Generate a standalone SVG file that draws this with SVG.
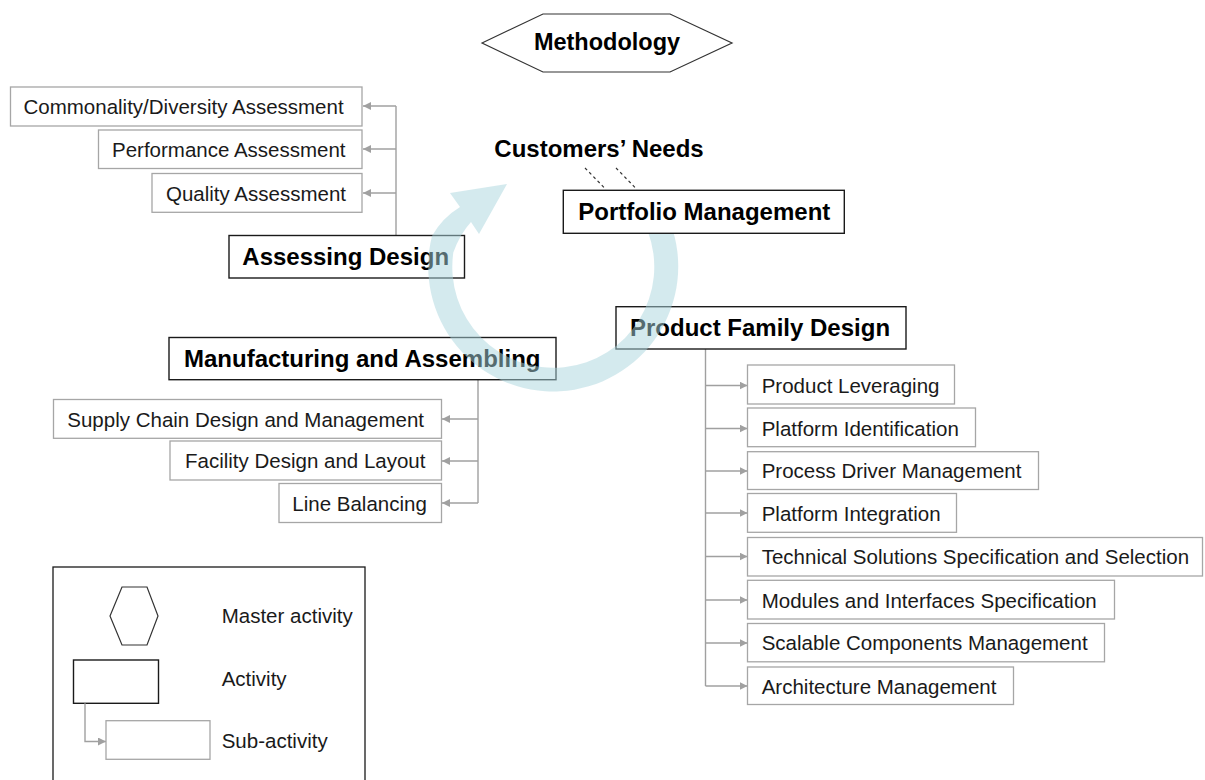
<svg xmlns="http://www.w3.org/2000/svg" width="1205" height="780" viewBox="0 0 1205 780">
<style>
.bg{fill:#ffffff}
.act{fill:#ffffff;stroke:#1a1a1a;stroke-width:1.4}
.sub{fill:#ffffff;stroke:#a6a6a6;stroke-width:1.3}
.conn{fill:none;stroke:#a0a0a0;stroke-width:1.4}
.dash{fill:none;stroke:#333333;stroke-width:1.2;stroke-dasharray:3,3}
.bt{font-family:"Liberation Sans",Arial,sans-serif;font-weight:bold;font-size:24px;fill:#000000}
.rt{font-family:"Liberation Sans",Arial,sans-serif;font-size:20.5px;fill:#1a1a1a}
.ring{fill:rgb(170,213,221);fill-opacity:0.5}
</style>
<defs>
<marker id="ah" markerUnits="userSpaceOnUse" markerWidth="9" markerHeight="9" refX="8" refY="4" orient="auto">
<path d="M0,0 L8,4 L0,8 Z" fill="#a0a0a0"/>
</marker>
</defs>
<rect class="bg" x="0" y="0" width="1205" height="780"/>

<g id="methodology">
<polygon points="482,43 543,14 670,14 732,43 670,72 543,72" fill="#ffffff" stroke="#333333" stroke-width="1.2"/>
<text class="bt" x="607" y="49.5" text-anchor="middle" style="font-size:23.5px">Methodology</text>
</g>

<g id="connectors">
<path class="conn" d="M396 235 V106"/>
<path class="conn" d="M396 106 H363" marker-end="url(#ah)"/>
<path class="conn" d="M396 149 H363" marker-end="url(#ah)"/>
<path class="conn" d="M396 193 H363" marker-end="url(#ah)"/>
<path class="conn" d="M478 380 V503"/>
<path class="conn" d="M478 419 H442" marker-end="url(#ah)"/>
<path class="conn" d="M478 461 H442" marker-end="url(#ah)"/>
<path class="conn" d="M478 503 H442" marker-end="url(#ah)"/>
<path class="conn" d="M705.5 349 V686"/>
<path class="conn" d="M705.5 385.5 H747.5" marker-end="url(#ah)"/>
<path class="conn" d="M705.5 428.5 H747.5" marker-end="url(#ah)"/>
<path class="conn" d="M705.5 471 H747.5" marker-end="url(#ah)"/>
<path class="conn" d="M705.5 513 H747.5" marker-end="url(#ah)"/>
<path class="conn" d="M705.5 556.5 H747.5" marker-end="url(#ah)"/>
<path class="conn" d="M705.5 600 H747.5" marker-end="url(#ah)"/>
<path class="conn" d="M705.5 643 H747.5" marker-end="url(#ah)"/>
<path class="conn" d="M705.5 686 H747.5" marker-end="url(#ah)"/>
<path class="dash" d="M585 168 L606 189.5"/>
<path class="dash" d="M616 168 L637 189.5"/>
</g>

<g id="commonality">
<rect class="sub" x="10.5" y="87" width="351.5" height="39"/>
<text class="rt" x="23.5" y="114.3">Commonality/Diversity Assessment</text>
</g>
<g id="performance">
<rect class="sub" x="98.5" y="130" width="263.5" height="38.5"/>
<text class="rt" x="112" y="156.8">Performance Assessment</text>
</g>
<g id="quality">
<rect class="sub" x="152" y="173.5" width="210" height="38.8"/>
<text class="rt" x="166" y="200.5">Quality Assessment</text>
</g>
<g id="assessing-design">
<rect class="act" x="229" y="235.5" width="235.5" height="42.5"/>
<text class="bt" x="242.3" y="265">Assessing Design</text>
</g>

<g id="customers-needs">
<text class="bt" x="494.3" y="157.3">Customers’ Needs</text>
</g>

<g id="manufacturing">
<rect class="act" x="169" y="337.5" width="387" height="42.2"/>
<text class="bt" x="184" y="366.6">Manufacturing and Assembling</text>
</g>
<g id="supply-chain">
<rect class="sub" x="53.5" y="399.5" width="388" height="38.8"/>
<text class="rt" x="67.3" y="426.6">Supply Chain Design and Management</text>
</g>
<g id="facility">
<rect class="sub" x="170" y="441" width="271.5" height="39"/>
<text class="rt" x="185" y="468.3">Facility Design and Layout</text>
</g>
<g id="line-balancing">
<rect class="sub" x="279" y="483.5" width="162.5" height="39"/>
<text class="rt" x="292.3" y="510.8">Line Balancing</text>
</g>

<g id="product-family-design">
<rect class="act" x="616" y="306.7" width="290" height="42.3"/>
<text class="bt" x="630" y="336">Product Family Design</text>
</g>

<g id="cycle-arrow">
<path class="ring" d="M670.5 223.2 A125 125 0 1 1 432 236 Q442 218 460 207 L450 193 L507 184 L479 234 L471 222 Q460 234 453.3 252.5 A101 101 0 1 0 647.9 231.5 Z"/>
</g>

<g id="portfolio-management">
<rect class="act" x="563.3" y="190.3" width="281" height="43"/>
<text class="bt" x="578.3" y="219.5">Portfolio Management</text>
</g>

<g id="product-leveraging">
<rect class="sub" x="747.5" y="365" width="207" height="39"/>
<text class="rt" x="761.7" y="392.7">Product Leveraging</text>
</g>
<g id="platform-identification">
<rect class="sub" x="747.5" y="408" width="228" height="38.7"/>
<text class="rt" x="761.7" y="435.6">Platform Identification</text>
</g>
<g id="process-driver">
<rect class="sub" x="747.5" y="451.7" width="291" height="37.8"/>
<text class="rt" x="761.7" y="478.3">Process Driver Management</text>
</g>
<g id="platform-integration">
<rect class="sub" x="747.5" y="493.5" width="209" height="38.8"/>
<text class="rt" x="761.7" y="520.6">Platform Integration</text>
</g>
<g id="technical-solutions">
<rect class="sub" x="747.5" y="537.5" width="455" height="38.5"/>
<text class="rt" x="761.7" y="564.4">Technical Solutions Specification and Selection</text>
</g>
<g id="modules-interfaces">
<rect class="sub" x="747.5" y="580.3" width="367" height="38.7"/>
<text class="rt" x="761.7" y="607.5">Modules and Interfaces Specification</text>
</g>
<g id="scalable-components">
<rect class="sub" x="747.5" y="623.5" width="357" height="38.3"/>
<text class="rt" x="761.7" y="650.4">Scalable Components Management</text>
</g>
<g id="architecture">
<rect class="sub" x="747.5" y="667" width="266" height="37.5"/>
<text class="rt" x="761.7" y="693.5">Architecture Management</text>
</g>

<g id="legend">
<rect x="53" y="567" width="312" height="230" fill="#ffffff" stroke="#1a1a1a" stroke-width="1.3"/>
<polygon points="122,587 147,587 158,616 147,645 122,645 110,616" fill="#ffffff" stroke="#333333" stroke-width="1.2"/>
<text class="rt" x="221.7" y="623.3">Master activity</text>
<rect class="act" x="73.5" y="660" width="85" height="43.3"/>
<text class="rt" x="221.7" y="685.5">Activity</text>
<path class="conn" d="M85 703.3 V741.5 H106" marker-end="url(#ah)"/>
<rect class="sub" x="106" y="720.7" width="104" height="38.6"/>
<text class="rt" x="221.7" y="747.5">Sub-activity</text>
</g>
</svg>
